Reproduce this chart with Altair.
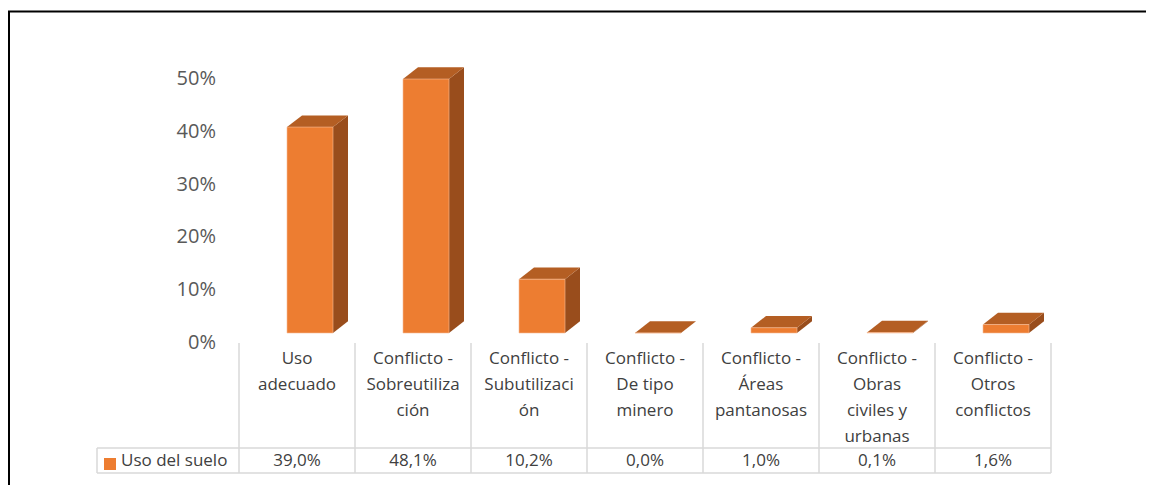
import altair as alt
import pandas as pd

# ---------------- data ----------------
categories = [
    "Uso adecuado",
    "Conflicto - Sobreutilización",
    "Conflicto - Subutilización",
    "Conflicto - De tipo minero",
    "Conflicto - Áreas pantanosas",
    "Conflicto - Obras civiles y urbanas",
    "Conflicto - Otros conflictos",
]
category_lines = [
    ["Uso", "adecuado"],
    ["Conflicto -", "Sobreutiliza", "ción"],
    ["Conflicto -", "Subutilizaci", "ón"],
    ["Conflicto -", "De tipo", "minero"],
    ["Conflicto -", "Áreas", "pantanosas"],
    ["Conflicto -", "Obras", "civiles y", "urbanas"],
    ["Conflicto -", "Otros", "conflictos"],
]
values = [39.0, 48.1, 10.2, 0.0, 1.0, 0.1, 1.6]
y_ticks = [0, 10, 20, 30, 40, 50]
series_name = "Uso del suelo"

# ---------------- layout (page pixels) ----------------
W, H = 1138, 477
OX, OY = 8, 8
COL0, COLW = 297, 116      # centre of first table column, column width
ZERO, PXPCT = 333, 5.28    # baseline of front faces, pixels per percent


def ux(px):
    return (px - COL0) / COLW


def uy(py):
    return (ZERO - py) / PXPCT


xs = alt.Scale(domain=[ux(OX), ux(OX + W)], nice=False, zero=False)
ys = alt.Scale(domain=[uy(OY + H), uy(OY)], nice=False, zero=False)

FL, FR = -10 / COLW, 36 / COLW       # front face left/right offsets
DX, DY = 15 / COLW, 11.7 / PXPCT     # 3D depth offsets

FRONT = "#ED7D31"
TOP = "#B45E23"
SIDE = "#994D1C"
GRID = "#D9D9D9"
FONT = "Open Sans"

n = len(categories)
front = pd.DataFrame({
    "cat": categories,
    "x": [i + FL for i in range(n)],
    "x2": [i + FR for i in range(n)],
    "v": values,
    "z": [0.0] * n,
})

side_rows, top_rows = [], []
for i, (c, v) in enumerate(zip(categories, values)):
    side_rows.append({"cat": c, "x": i + FR, "y": v, "y2": 0.0})
    side_rows.append({"cat": c, "x": i + FR + DX, "y": v + DY, "y2": DY})
    top_rows.append({"cat": c, "y": v, "x": i + FL, "x2": i + FR})
    top_rows.append({"cat": c, "y": v + DY, "x": i + FL + DX, "x2": i + FR + DX})
side = pd.DataFrame(side_rows)
top = pd.DataFrame(top_rows)

side_layer = alt.Chart(side).mark_area(orient="vertical", color=SIDE).encode(
    x=alt.X("x:Q", scale=xs, axis=None),
    y=alt.Y("y:Q", scale=ys, axis=None),
    y2="y2:Q",
    detail="cat:N",
)
top_layer = alt.Chart(top).mark_area(orient="horizontal", color=TOP).encode(
    y=alt.Y("y:Q", scale=ys, axis=None),
    x=alt.X("x:Q", scale=xs, axis=None),
    x2="x2:Q",
    detail="cat:N",
)
front_layer = alt.Chart(front).mark_bar(
    color=FRONT, stroke="#F6BE98", strokeWidth=0.6
).encode(
    x=alt.X("x:Q", scale=xs, axis=None),
    x2="x2:Q",
    y=alt.Y("v:Q", scale=ys, axis=None),
    y2="z:Q",
)

# y-axis labels
ytick_df = pd.DataFrame({"v": y_ticks, "lab": [f"{t}%" for t in y_ticks], "x": [ux(216)] * len(y_ticks)})
ytext = alt.Chart(ytick_df).mark_text(
    align="right", baseline="middle", dy=10, font=FONT, fontSize=20, color="#595959"
).encode(
    x=alt.X("x:Q", scale=xs, axis=None),
    y=alt.Y("v:Q", scale=ys, axis=None),
    text="lab:N",
)

# data table: category labels
cat_df = pd.DataFrame({
    "x": list(range(n)),
    "y": [uy(351)] * n,
    "lab": ["\n".join(l) for l in category_lines],
})
cat_text = alt.Chart(cat_df).mark_text(
    align="center", baseline="top", lineBreak="\n", lineHeight=26,
    font=FONT, fontSize=17, color="#404040"
).encode(
    x=alt.X("x:Q", scale=xs, axis=None),
    y=alt.Y("y:Q", scale=ys, axis=None),
    text="lab:N",
)

# data table: values
val_df = pd.DataFrame({
    "x": list(range(n)),
    "y": [uy(460.5)] * n,
    "lab": [f"{v:.1f}%".replace(".", ",") for v in values],
})
val_text = alt.Chart(val_df).mark_text(
    align="center", baseline="middle", font=FONT, fontSize=17, color="#404040"
).encode(
    x=alt.X("x:Q", scale=xs, axis=None),
    y=alt.Y("y:Q", scale=ys, axis=None),
    text="lab:N",
)

# legend key inside table
key_df = pd.DataFrame({"x": [ux(110)], "y": [uy(464)], "xt": [ux(121)], "yt": [uy(460.5)], "lab": [series_name]})
key_sq = alt.Chart(key_df).mark_square(size=144, color=FRONT, opacity=1).encode(
    x=alt.X("x:Q", scale=xs, axis=None),
    y=alt.Y("y:Q", scale=ys, axis=None),
)
key_txt = alt.Chart(key_df).mark_text(
    align="left", baseline="middle", font=FONT, fontSize=17, color="#404040"
).encode(
    x=alt.X("xt:Q", scale=xs, axis=None),
    y=alt.Y("yt:Q", scale=ys, axis=None),
    text="lab:N",
)

# table grid lines
vlines = pd.DataFrame({
    "x": [i - 0.5 for i in range(n + 1)] + [ux(97)],
    "y": [uy(343)] * (n + 1) + [uy(448)],
    "y2": [uy(473)] * (n + 2),
})
vgrid = alt.Chart(vlines).mark_rule(color=GRID, strokeWidth=1.5).encode(
    x=alt.X("x:Q", scale=xs, axis=None),
    y=alt.Y("y:Q", scale=ys, axis=None),
    y2="y2:Q",
)
hlines = pd.DataFrame({
    "y": [uy(448), uy(473)],
    "x": [ux(97)] * 2,
    "x2": [n - 0.5] * 2,
})
hgrid = alt.Chart(hlines).mark_rule(color=GRID, strokeWidth=1.5).encode(
    y=alt.Y("y:Q", scale=ys, axis=None),
    x=alt.X("x:Q", scale=xs, axis=None),
    x2="x2:Q",
)

# outer frame (top and left edges)
frame_h = pd.DataFrame({"y": [uy(11.5)], "x": [ux(OX)], "x2": [ux(OX + W)]})
frame_v = pd.DataFrame({"x": [ux(9)], "y": [uy(11)], "y2": [uy(OY + H)]})
fh = alt.Chart(frame_h).mark_rule(color="#000000", strokeWidth=2).encode(
    y=alt.Y("y:Q", scale=ys, axis=None),
    x=alt.X("x:Q", scale=xs, axis=None),
    x2="x2:Q",
)
fv = alt.Chart(frame_v).mark_rule(color="#000000", strokeWidth=2).encode(
    x=alt.X("x:Q", scale=xs, axis=None),
    y=alt.Y("y:Q", scale=ys, axis=None),
    y2="y2:Q",
)

chart = alt.layer(
    vgrid, hgrid, side_layer, top_layer, front_layer,
    ytext, cat_text, val_text, key_sq, key_txt, fh, fv,
).properties(
    width=W, height=H, padding=0,
    autosize=alt.AutoSizeParams(type="none"),
    background="white",
).configure_view(stroke=None)

chart.save("out.html", embed_options={"renderer": "svg", "actions": False})
